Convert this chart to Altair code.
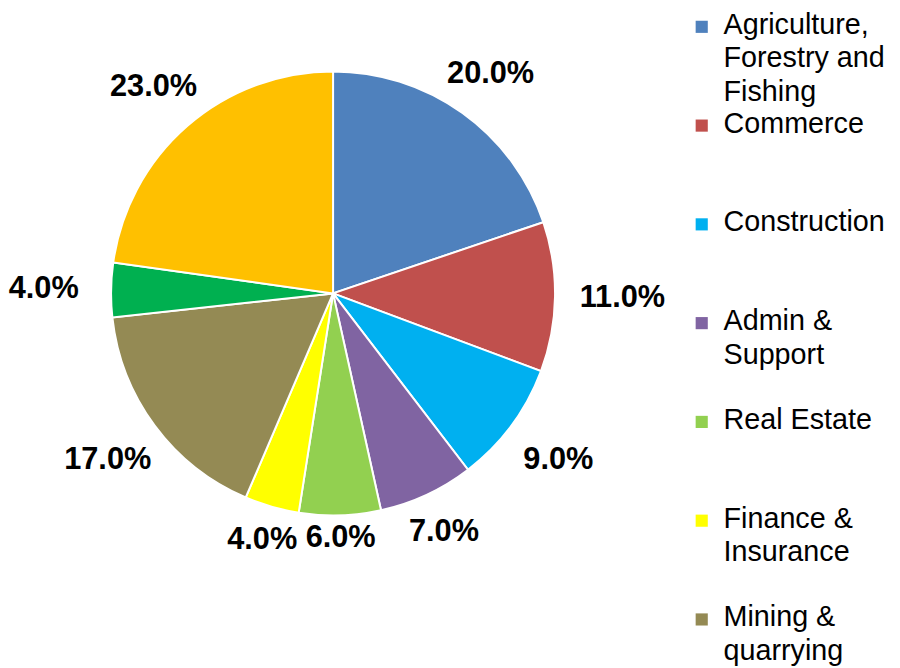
import altair as alt
import pandas as pd

categories = ["Agriculture, Forestry and Fishing", "Commerce", "Construction",
              "Admin & Support", "Real Estate", "Finance & Insurance",
              "Mining & quarrying", "Unlabelled A", "Unlabelled B"]
values = [20.0, 11.0, 9.0, 7.0, 6.0, 4.0, 17.0, 4.0, 23.0]
colors = ["#4F81BD", "#C0504D", "#00B0F0", "#8064A2", "#92D050",
          "#FFFF00", "#948A54", "#00B050", "#FFC000"]

legend_cats = categories[:7]
legend_labels = ["Agriculture,\nForestry and\nFishing", "Commerce", "Construction",
                 "Admin &\nSupport", "Real Estate", "Finance &\nInsurance",
                 "Mining &\nquarrying"]

df = pd.DataFrame({"cat": categories, "value": values, "idx": list(range(len(values)))})
df["label"] = [f"{v:.1f}%" for v in values]

color_scale = alt.Scale(domain=categories, range=colors)

arcs = alt.Chart(df).mark_arc(radius=224, stroke="#FFFFFF", strokeWidth=2).encode(
    theta=alt.Theta("value:Q", stack=True),
    order=alt.Order("idx:Q"),
    color=alt.Color("cat:N", scale=color_scale, legend=None),
)

labels = alt.Chart(df).transform_joinaggregate(
    total="sum(value)"
).transform_window(
    cum="sum(value)", sort=[alt.SortField("idx")], frame=[None, 0]
).transform_calculate(
    mid="(datum.cum - datum.value/2) / datum.total * 2 * PI",
    r="246 + 46 * abs(sin(datum.mid))",
).mark_text(
    font="Liberation Sans", fontSize=31, fontWeight="bold", color="#000000",
    align="center", baseline="middle"
).encode(
    theta=alt.Theta("mid:Q", scale=None, stack=False),
    radius=alt.Radius("r:Q", scale=None),
    text="label:N",
)

pie = alt.layer(arcs, labels).properties(width=656, height=558)

ldf = pd.DataFrame({"cat": legend_cats, "text": legend_labels})
ly = alt.Y("cat:N", sort=legend_cats,
           scale=alt.Scale(type="point", range=[10, 608], padding=0), axis=None)
lsym = alt.Chart(ldf).mark_square(size=150, opacity=1).encode(
    x=alt.value(20), y=ly,
    color=alt.Color("cat:N", scale=color_scale, legend=None),
)
ltext = alt.Chart(ldf).mark_text(
    font="Liberation Sans", fontSize=29, align="left", baseline="top",
    lineBreak="\n", lineHeight=34, dy=-16, color="#000000"
).encode(x=alt.value(42), y=ly, text="text:N")
legend = alt.layer(lsym, ltext).properties(width=212, height=652)

chart = alt.hconcat(pie, legend, spacing=16).properties(padding=0).configure_view(stroke=None)

chart.save("out.html", embed_options={"renderer": "svg", "actions": False})
